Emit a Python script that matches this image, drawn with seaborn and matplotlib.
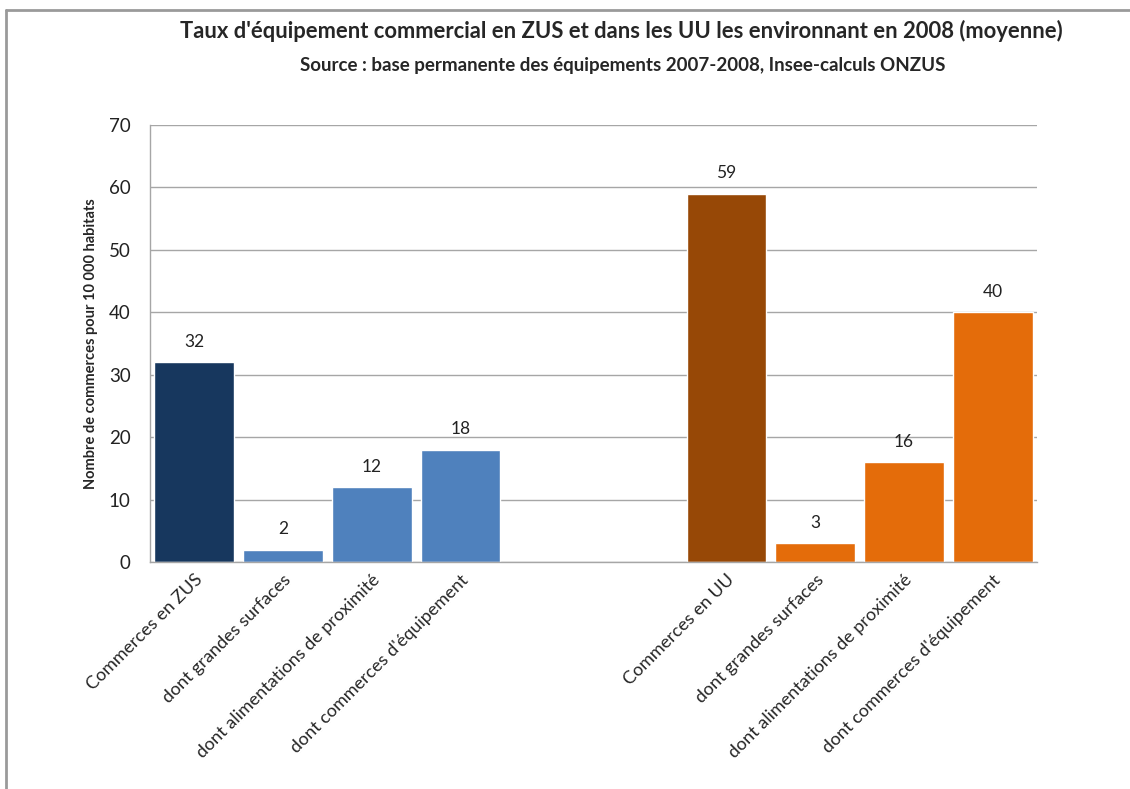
import matplotlib
matplotlib.use("Agg")
import matplotlib.pyplot as plt
from matplotlib.lines import Line2D
import seaborn as sns
import pandas as pd

# Category labels for the two zones
labels_zus = ["Commerces en ZUS", "dont grandes surfaces",
              "dont alimentations de proximité", "dont commerces d'équipement"]
labels_uu = ["Commerces en UU", "dont grandes surfaces",
             "dont alimentations de proximité", "dont commerces d'équipement"]

# Number of shops per 10 000 inhabitants
values_zus = [32, 2, 12, 18]
values_uu = [59, 3, 16, 40]

colors_zus = ["#17375E", "#4F81BD", "#4F81BD", "#4F81BD"]
colors_uu = ["#974806", "#E46C0A", "#E46C0A", "#E46C0A"]

keys_zus = [f"zus{i}" for i in range(len(labels_zus))]
keys_uu = [f"uu{i}" for i in range(len(labels_uu))]
spacers = ["gap0", "gap1"]
order = keys_zus + spacers + keys_uu
tick_labels = labels_zus + ["", ""] + labels_uu

df = pd.DataFrame({
    "slot": keys_zus + keys_uu,
    "value": values_zus + values_uu,
})
palette = dict(zip(keys_zus + keys_uu, colors_zus + colors_uu))

sns.set_style("white")
plt.rcParams["font.family"] = ["Lato", "DejaVu Sans"]

fig = plt.figure(figsize=(11.3, 7.89), dpi=100)
ax = fig.add_axes([150 / 1130, 1 - 562 / 789, 887 / 1130, 437 / 789])

sns.barplot(data=df, x="slot", y="value", hue="slot", order=order,
            hue_order=keys_zus + keys_uu, palette=palette, width=0.9,
            saturation=1, legend=False, ax=ax, errorbar=None)

for cont in ax.containers:
    ax.bar_label(cont, fmt="%g", padding=9, fontsize=12.5, color="#222222")

ax.set_ylim(0, 70)
ax.set_yticks(range(0, 71, 10))
ax.set_xlim(-0.5, len(order) - 0.5)
ax.yaxis.grid(True, color="#a6a6a6", linewidth=1)
ax.set_axisbelow(True)
for side in ["top", "right"]:
    ax.spines[side].set_visible(False)
for side in ["left", "bottom"]:
    ax.spines[side].set_color("#a6a6a6")
    ax.spines[side].set_linewidth(1)

ax.set_xticks(range(len(order)))
ax.set_xticklabels(tick_labels, rotation=45, ha="right",
                   rotation_mode="anchor", fontsize=13)
ax.tick_params(axis="x", length=0, pad=7)
ax.tick_params(axis="y", length=0, pad=14, labelsize=13.5, labelcolor="#222222")
ax.set_xlabel("")
ax.set_ylabel("Nombre de commerces pour 10 000 habitats",
              fontsize=10.5, fontweight="bold", labelpad=8)

fig.text(0.550, 1 - 31 / 789, "Taux d'équipement commercial en ZUS et dans les UU les environnant en 2008 (moyenne)",
         ha="center", va="center", fontsize=15.8, fontweight="bold")
fig.text(0.551, 1 - 66 / 789, "Source : base permanente des équipements 2007-2008, Insee-calculs ONZUS",
         ha="center", va="center", fontsize=13.5, fontweight="bold")

# Outer chart frame (top and left edges)
y_top = 1 - 10 / 789
x_left = 6 / 1130
fig.add_artist(Line2D([x_left, 1], [y_top, y_top], color="#9a9a9a", linewidth=2))
fig.add_artist(Line2D([x_left, x_left], [0, y_top], color="#9a9a9a", linewidth=2))

fig.savefig("out.png", dpi=100, facecolor="white")
